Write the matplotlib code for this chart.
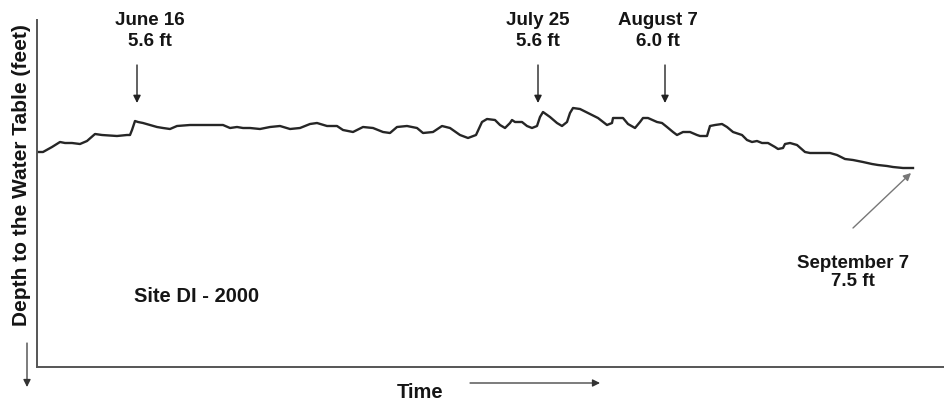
import matplotlib
matplotlib.use("Agg")
import matplotlib.pyplot as plt

plt.rcParams['font.family'] = ['Liberation Sans', 'DejaVu Sans']
plt.rcParams['font.weight'] = 'bold'

# days since June 6 (approx) and depth to water table (ft)
days = [0.0, 0.6, 1.5, 2.3, 2.8, 3.5, 4.3, 5.0, 5.8, 6.5, 8.0, 9.0, 9.3, 9.5, 9.8,
        10.1, 10.6, 11.3, 12.0, 12.6, 13.3, 14.0, 15.3, 17.3, 18.6, 19.3, 20.0, 20.6,
        21.3, 22.3, 23.3, 24.3, 25.3, 26.3, 27.3, 28.0, 29.0, 30.0, 30.6, 31.6, 32.6,
        33.6, 34.6, 35.3, 36.0, 37.0, 38.0, 38.6, 39.6, 40.5, 41.3, 42.3, 43.1, 43.9,
        44.5, 45.0, 45.8, 46.3, 46.8, 47.3, 47.5, 47.8, 48.5, 49.0, 49.5, 50.0, 50.3,
        50.6, 51.3, 52.0, 52.5, 53.0, 53.3, 53.6, 54.3, 55.3, 56.1, 57.0, 57.5, 57.6,
        58.6, 59.1, 59.8, 60.3, 60.6, 61.1, 62.0, 62.5, 63.0, 63.6, 64.0, 64.6, 65.3,
        66.0, 66.3, 67.0, 67.3, 67.8, 68.5, 69.0, 69.6, 70.5, 71.0, 71.5, 72.0, 72.5,
        73.1, 73.8, 74.1, 74.6, 74.8, 75.3, 76.0, 76.8, 77.3, 78.6, 79.3, 80.0, 80.8,
        81.6, 82.6, 83.5, 84.1, 85.0, 85.6, 86.6, 87.6]
depth = [6.88, 6.88, 6.68, 6.48, 6.52, 6.52, 6.56, 6.44, 6.16, 6.20, 6.24, 6.20, 6.20, 6.00, 5.64,
         5.68, 5.72, 5.80, 5.88, 5.92, 5.96, 5.84, 5.80, 5.80, 5.80, 5.92, 5.88, 5.92,
         5.92, 5.96, 5.88, 5.84, 5.96, 5.92, 5.76, 5.72, 5.84, 5.84, 6.00, 6.08, 5.88,
         5.92, 6.08, 6.12, 5.88, 5.84, 5.92, 6.12, 6.08, 5.84, 5.92, 6.20, 6.32, 6.20,
         5.68, 5.56, 5.60, 5.80, 5.92, 5.72, 5.60, 5.68, 5.68, 5.84, 5.92, 5.84, 5.48,
         5.28, 5.48, 5.72, 5.84, 5.68, 5.32, 5.12, 5.16, 5.36, 5.52, 5.80, 5.72, 5.52,
         5.52, 5.76, 5.92, 5.68, 5.52, 5.52, 5.68, 5.72, 5.88, 6.08, 6.20, 6.08, 6.08,
         6.20, 6.24, 6.24, 5.84, 5.80, 5.76, 5.88, 6.08, 6.20, 6.40, 6.48, 6.44, 6.52,
         6.52, 6.68, 6.76, 6.72, 6.56, 6.52, 6.60, 6.88, 6.92, 6.92, 6.92, 7.00, 7.16,
         7.20, 7.28, 7.36, 7.40, 7.44, 7.48, 7.52, 7.52]

# annotated events
event_labels = ["June 16\n5.6 ft", "July 25\n5.6 ft", "August 7\n6.0 ft"]
event_days = [10.0, 50.1, 62.8]
event_text_days = [11.3, 50.1, 62.1]

sep_label = "September 7\n7.5 ft"
sep_tip = (87.4, 7.72)
sep_tail = (81.6, 9.92)

fig = plt.figure(figsize=(9.45, 4.03), dpi=100)
ax = fig.add_axes([37 / 945, 36 / 403, 1 - 37 / 945, 347 / 403])

ax.plot(days, depth, color='#262626', lw=1.7)

ax.set_xlim(0, 90.8)
ax.set_ylim(15.48, 1.6)
ax.set_xticks([])
ax.set_yticks([])
for side in ['top', 'right']:
    ax.spines[side].set_visible(False)
for side in ['left', 'bottom']:
    ax.spines[side].set_color('#555555')
    ax.spines[side].set_linewidth(1.4)

arrow_kw = dict(arrowstyle='-|>', color='#222222', lw=1.0, mutation_scale=11,
                shrinkA=0, shrinkB=0)

for lab, d, td in zip(event_labels, event_days, event_text_days):
    ax.annotate('', xy=(d, 4.92), xytext=(d, 3.4), arrowprops=arrow_kw)
    ax.text(td, 2.05, lab, ha='center', va='center', fontsize=13.5,
            fontweight='bold', color='#151515', linespacing=1.3)

ax.annotate('', xy=sep_tip, xytext=sep_tail,
            arrowprops=dict(arrow_kw, color='#777777'))
ax.text(81.6, 11.7, sep_label, ha='center', va='center', fontsize=13.5,
        fontweight='bold', color='#151515', linespacing=1.1)

ax.text(16.0, 12.68, "Site DI - 2000", ha='center', va='center', fontsize=14.5,
        fontweight='bold', color='#151515')

# axis titles with direction arrows, placed in figure pixels
fig.text(22 / 945, 1 - 175 / 403, "Depth to the Water Table (feet)", rotation=90,
         ha='center', va='center', fontsize=15, fontweight='bold', color='#151515')
fig.text(420 / 945, 1 - 393 / 403, "Time", ha='center', va='center', fontsize=14.5,
         fontweight='bold', color='#151515')
fig_arrow = dict(arrow_kw, lw=0.9, color='#333333')
ax.annotate('', xy=(27, 403 - 387), xytext=(27, 403 - 343),
            xycoords='figure pixels', textcoords='figure pixels', arrowprops=fig_arrow,
            annotation_clip=False)
ax.annotate('', xy=(600, 403 - 383), xytext=(470, 403 - 383),
            xycoords='figure pixels', textcoords='figure pixels', arrowprops=fig_arrow,
            annotation_clip=False)

fig.savefig("out.png", dpi=100)
